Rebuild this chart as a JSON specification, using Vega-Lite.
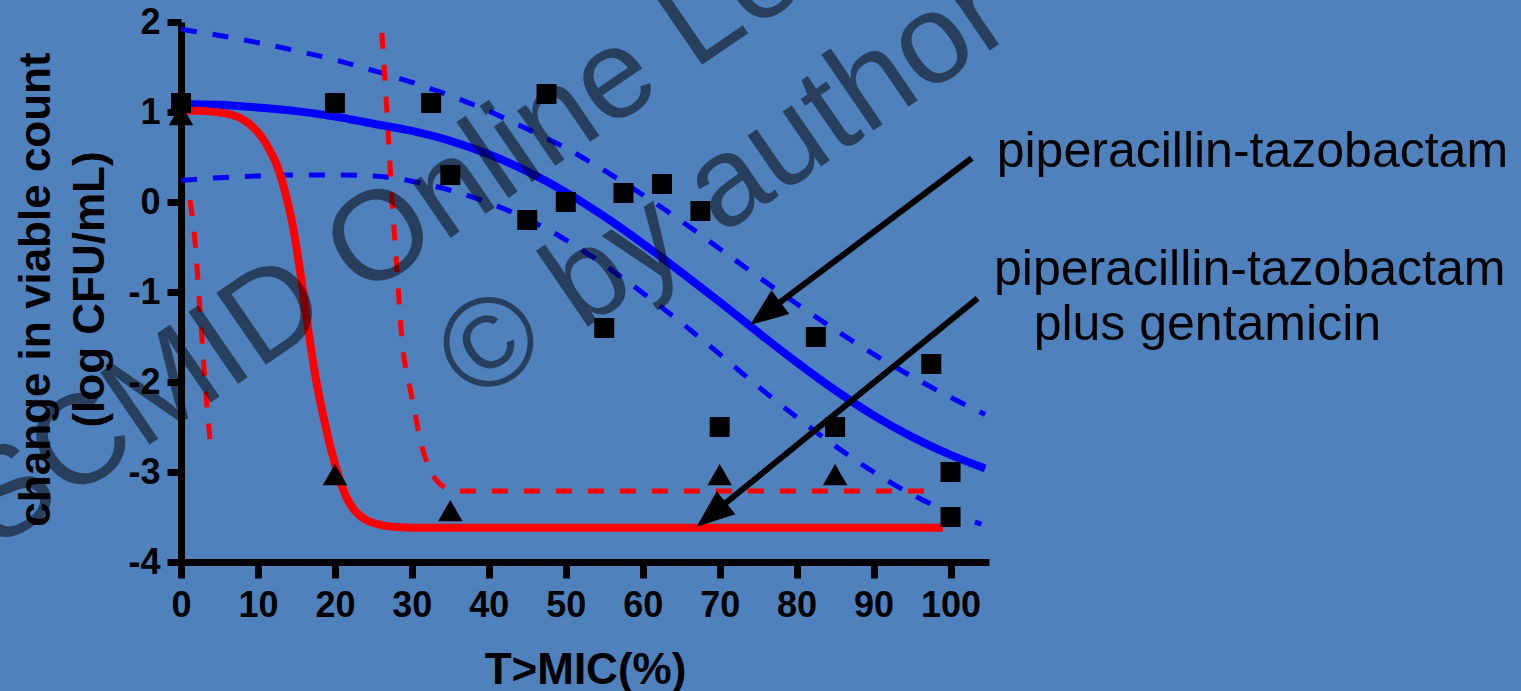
{
  "$schema": "https://vega.github.io/schema/vega-lite/v6.json",
  "width": 808,
  "height": 540,
  "autosize": {"type": "none"},
  "padding": {"left": 181, "top": 22, "right": 532, "bottom": 129},
  "background": "#4F81BD",
  "view": {"stroke": null},
  "config": {"font": "Liberation Sans"},
  "datasets": {
    "squares": [
      {"x": 0, "y": 1.1}, {"x": 20, "y": 1.1}, {"x": 32.5, "y": 1.1}, {"x": 35, "y": 0.3},
      {"x": 45, "y": -0.2}, {"x": 47.5, "y": 1.2}, {"x": 50, "y": 0}, {"x": 55, "y": -1.4},
      {"x": 57.5, "y": 0.1}, {"x": 62.5, "y": 0.2}, {"x": 67.5, "y": -0.1}, {"x": 70, "y": -2.5},
      {"x": 82.5, "y": -1.5}, {"x": 85, "y": -2.5}, {"x": 97.5, "y": -1.8}, {"x": 100, "y": -3},
      {"x": 100, "y": -3.5}
    ],
    "triangles": [
      {"x": 0, "y": 0.97}, {"x": 20, "y": -3.03}, {"x": 35, "y": -3.43}, {"x": 70, "y": -3.03}, {"x": 85, "y": -3.03}
    ],
    "blueFit": [
      {"x": 0, "y": 1.09}, {"x": 5, "y": 1.08}, {"x": 10, "y": 1.05}, {"x": 15, "y": 1.01}, {"x": 20, "y": 0.95},
      {"x": 25, "y": 0.87}, {"x": 30, "y": 0.79}, {"x": 35, "y": 0.68}, {"x": 40, "y": 0.53}, {"x": 45, "y": 0.34},
      {"x": 50, "y": 0.11}, {"x": 55, "y": -0.16}, {"x": 60, "y": -0.46}, {"x": 65, "y": -0.78}, {"x": 70, "y": -1.11},
      {"x": 75, "y": -1.45}, {"x": 80, "y": -1.78}, {"x": 85, "y": -2.09}, {"x": 90, "y": -2.37}, {"x": 95, "y": -2.61},
      {"x": 100, "y": -2.81}, {"x": 104.5, "y": -2.96}
    ],
    "blueUp": [
      {"x": 0, "y": 1.92}, {"x": 5, "y": 1.85}, {"x": 10, "y": 1.77}, {"x": 15, "y": 1.68}, {"x": 20, "y": 1.58},
      {"x": 25, "y": 1.46}, {"x": 30, "y": 1.33}, {"x": 35, "y": 1.18}, {"x": 40, "y": 1.01}, {"x": 45, "y": 0.81},
      {"x": 50, "y": 0.6}, {"x": 55, "y": 0.35}, {"x": 60, "y": 0.08}, {"x": 65, "y": -0.21}, {"x": 70, "y": -0.52},
      {"x": 75, "y": -0.83}, {"x": 80, "y": -1.13}, {"x": 85, "y": -1.42}, {"x": 90, "y": -1.69}, {"x": 95, "y": -1.94},
      {"x": 100, "y": -2.17}, {"x": 104.5, "y": -2.36}
    ],
    "blueLo": [
      {"x": 0, "y": 0.24}, {"x": 5, "y": 0.27}, {"x": 10, "y": 0.29}, {"x": 15, "y": 0.3}, {"x": 20, "y": 0.3},
      {"x": 25, "y": 0.29}, {"x": 27.5, "y": 0.27}, {"x": 30, "y": 0.23}, {"x": 35, "y": 0.13}, {"x": 40, "y": -0.01},
      {"x": 45, "y": -0.19}, {"x": 50, "y": -0.42}, {"x": 55, "y": -0.7}, {"x": 60, "y": -1.01}, {"x": 65, "y": -1.34},
      {"x": 70, "y": -1.69}, {"x": 75, "y": -2.05}, {"x": 80, "y": -2.39}, {"x": 85, "y": -2.71}, {"x": 90, "y": -3.0},
      {"x": 95, "y": -3.25}, {"x": 100, "y": -3.45}, {"x": 104, "y": -3.58}
    ],
    "redFit": [
      {"x": 0, "y": 1.02}, {"x": 3, "y": 1.01}, {"x": 6, "y": 0.98}, {"x": 8, "y": 0.92}, {"x": 9.5, "y": 0.82},
      {"x": 10.5, "y": 0.72}, {"x": 11.5, "y": 0.58}, {"x": 12.5, "y": 0.4}, {"x": 13.5, "y": 0.12}, {"x": 14.5, "y": -0.25},
      {"x": 15.5, "y": -0.78}, {"x": 16.5, "y": -1.4}, {"x": 17.5, "y": -1.95}, {"x": 18.5, "y": -2.38}, {"x": 19.5, "y": -2.75},
      {"x": 20.5, "y": -3.05}, {"x": 21.5, "y": -3.28}, {"x": 22.5, "y": -3.42}, {"x": 24, "y": -3.53}, {"x": 26, "y": -3.59},
      {"x": 28, "y": -3.61}, {"x": 32, "y": -3.62}, {"x": 99, "y": -3.62}
    ],
    "redDashA": [
      {"x": 1.17, "y": 0.02}, {"x": 1.8, "y": -0.42}, {"x": 2.5, "y": -1.24}, {"x": 3.1, "y": -1.98}, {"x": 3.77, "y": -2.64}
    ],
    "redDashB": [
      {"x": 26.1, "y": 1.88}, {"x": 26.5, "y": 1.36}, {"x": 26.9, "y": 0.8}, {"x": 27.4, "y": 0.06}, {"x": 28.0, "y": -0.68},
      {"x": 28.8, "y": -1.61}, {"x": 29.6, "y": -2.0}, {"x": 30.3, "y": -2.3}, {"x": 31.0, "y": -2.61}, {"x": 32.4, "y": -2.98},
      {"x": 33.5, "y": -3.12}, {"x": 34.5, "y": -3.18}, {"x": 36, "y": -3.21}, {"x": 98, "y": -3.21}
    ],
    "arrows": [
      {"x": 102.75, "y": 0.486, "x2": 76.0, "y2": -1.233},
      {"x": 103.5, "y": -1.07, "x2": 69.0, "y2": -3.468}
    ],
    "head1": [{"x": 73.94, "y": -1.367}],
    "head2": [{"x": 67.0, "y": -3.608}],
    "labels": [
      {"x": 106.0, "y": 0.389, "label": "piperacillin-tazobactam"},
      {"x": 105.65, "y": -0.922, "label": "piperacillin-tazobactam"},
      {"x": 110.8, "y": -1.533, "label": "plus gentamicin"}
    ],
    "watermark": [
      {"x": 62.08, "y": 1.192, "label": "ESCMID Online Lecture Library"},
      {"x": 73.44, "y": -0.179, "label": "© by author"}
    ]
  },
  "encoding": {
    "x": {
      "field": "x", "type": "quantitative",
      "scale": {"domain": [0, 105], "nice": false, "zero": false},
      "axis": {
        "values": [0, 10, 20, 30, 40, 50, 60, 70, 80, 90, 100],
        "grid": false,
        "domainColor": "black", "domainWidth": 7,
        "tickColor": "black", "tickWidth": 7, "tickSize": 16,
        "labelFont": "Liberation Sans", "labelFontSize": 36, "labelFontWeight": "bold", "labelColor": "black",
        "labelPadding": 10, "labelFlush": false, "labelOverlap": false,
        "title": "T>MIC(%)",
        "titleFont": "Liberation Sans", "titleFontSize": 44, "titleFontWeight": "bold", "titleColor": "black",
        "titleX": 404, "titleY": 121, "titleBaseline": "alphabetic", "titleAlign": "center"
      }
    },
    "y": {
      "field": "y", "type": "quantitative",
      "scale": {"domain": [-4, 2], "nice": false, "zero": false},
      "axis": {
        "values": [-4, -3, -2, -1, 0, 1, 2],
        "labelExpr": "datum.value + ''",
        "grid": false,
        "domainColor": "black", "domainWidth": 7,
        "tickColor": "black", "tickWidth": 7, "tickSize": 14,
        "labelFont": "Liberation Sans", "labelFontSize": 36, "labelFontWeight": "bold", "labelColor": "black",
        "labelPadding": 7, "labelFlush": false, "labelOverlap": false,
        "title": ["change in viable count", "(log CFU/mL)"],
        "titleFont": "Liberation Sans", "titleFontSize": 44, "titleFontWeight": "bold", "titleColor": "black",
        "titleLineHeight": 54, "titleAngle": -90,
        "titleX": -132, "titleY": 267, "titleBaseline": "alphabetic", "titleAlign": "center"
      }
    }
  },
  "layer": [
    {"data": {"name": "blueUp"}, "mark": {"type": "line", "color": "#0000FF", "strokeWidth": 5, "strokeDash": [16, 16], "interpolate": "monotone"}},
    {"data": {"name": "blueLo"}, "mark": {"type": "line", "color": "#0000FF", "strokeWidth": 5, "strokeDash": [16, 16], "interpolate": "monotone"}},
    {"data": {"name": "redDashA"}, "mark": {"type": "line", "color": "#FF0000", "strokeWidth": 5, "strokeDash": [16, 16], "interpolate": "monotone"}},
    {"data": {"name": "redDashB"}, "mark": {"type": "line", "color": "#FF0000", "strokeWidth": 5, "strokeDash": [16, 16], "interpolate": "monotone"}},
    {"data": {"name": "blueFit"}, "mark": {"type": "line", "color": "#0000FF", "strokeWidth": 8, "interpolate": "monotone"}},
    {"data": {"name": "redFit"}, "mark": {"type": "line", "color": "#FF0000", "strokeWidth": 8, "interpolate": "monotone"}},
    {"data": {"name": "squares"}, "mark": {"type": "point", "shape": "square", "filled": true, "color": "black", "opacity": 1, "size": 400, "strokeWidth": 0}},
    {"data": {"name": "triangles"}, "mark": {"type": "point", "shape": "triangle-up", "filled": true, "color": "black", "opacity": 1, "size": 600, "strokeWidth": 0}},
    {"data": {"name": "arrows"}, "mark": {"type": "rule", "color": "black", "strokeWidth": 6}, "encoding": {"x2": {"field": "x2"}, "y2": {"field": "y2"}}},
    {"data": {"name": "head1"}, "mark": {"type": "point", "shape": "M0,0L-0.78,2L0.78,2Z", "filled": true, "color": "black", "opacity": 1, "size": 1444, "strokeWidth": 0, "angle": 233.1}},
    {"data": {"name": "head2"}, "mark": {"type": "point", "shape": "M0,0L-0.78,2L0.78,2Z", "filled": true, "color": "black", "opacity": 1, "size": 1444, "strokeWidth": 0, "angle": 230.9}},
    {"data": {"name": "labels"}, "mark": {"type": "text", "font": "Liberation Sans", "fontSize": 50, "color": "black", "align": "left", "baseline": "alphabetic"}, "encoding": {"text": {"field": "label"}}},
    {"data": {"name": "watermark"}, "mark": {"type": "text", "font": "Liberation Sans", "fontSize": 127, "color": "black", "opacity": 0.5, "angle": -34.5, "align": "center", "baseline": "alphabetic"}, "encoding": {"text": {"field": "label"}}}
  ]
}
